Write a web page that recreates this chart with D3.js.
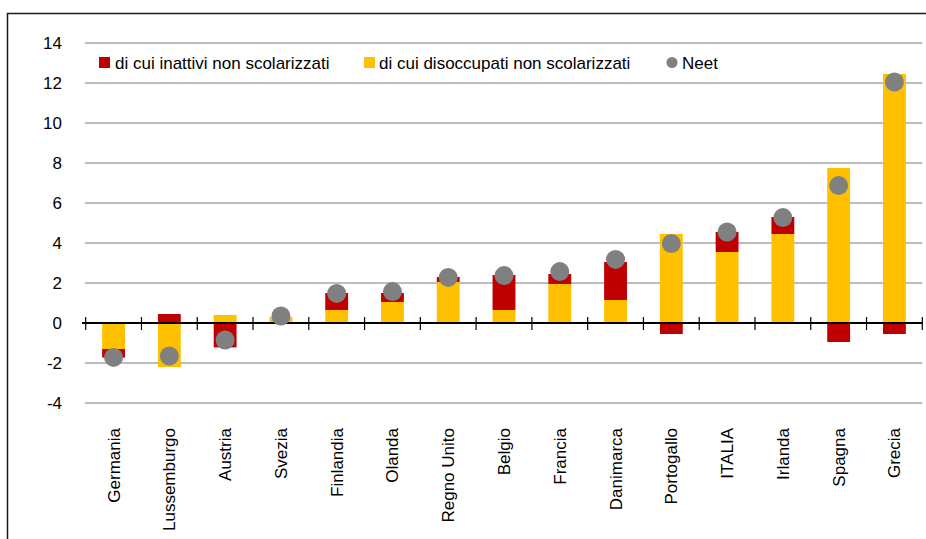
<!DOCTYPE html>
<html>
<head>
<meta charset="utf-8">
<script src="https://cdn.jsdelivr.net/npm/d3@7"></script>
<style>
  html, body { margin: 0; padding: 0; background: #fff; overflow: hidden; }
  svg { display: block; overflow: hidden; font-family: "Liberation Sans", Arial, sans-serif; }
</style>
</head>
<body>
<svg id="chart" width="926" height="539"></svg>
<script>
const categories = ["Germania", "Lussemburgo", "Austria", "Svezia", "Finlandia", "Olanda", "Regno Unito", "Belgio", "Francia", "Danimarca", "Portogallo", "ITALIA", "Irlanda", "Spagna", "Grecia"];
const disoccupati = [-1.3, -2.2, 0.4, 0.3, 0.65, 1.05, 2.05, 0.65, 1.95, 1.15, 4.45, 3.55, 4.45, 7.75, 12.45];
const inattivi = [-0.43, 0.45, -1.22, 0, 0.85, 0.45, 0.25, 1.75, 0.5, 1.9, -0.55, 1.0, 0.85, -0.95, -0.55];
const neet = [-1.72, -1.65, -0.85, 0.35, 1.48, 1.57, 2.28, 2.37, 2.57, 3.18, 3.97, 4.55, 5.27, 6.87, 12.05];
const yTicks = [-4, -2, 0, 2, 4, 6, 8, 10, 12, 14];
const seriesNames = ["di cui inattivi non scolarizzati", "di cui disoccupati non scolarizzati", "Neet"];

const RED = "#C00000", YELLOW = "#FFC000", GREY = "#808080", GRID = "#A6A6A6";

const svg = d3.select("#chart");

svg.append("path").attr("d", "M7.5,539 V13.5 H926")
  .attr("fill", "none").attr("stroke", "#1a1a1a").attr("stroke-width", 1.5);

const x = d3.scaleBand().domain(categories).range([85.7, 922.3]).paddingInner(0.59).paddingOuter(0.295);
const y = d3.scaleLinear().domain([-4, 14]).range([403, 43]);

svg.append("g").selectAll("line").data(yTicks.filter(t => t !== 0)).join("line")
  .attr("x1", 85).attr("x2", 922.3)
  .attr("y1", d => y(d)).attr("y2", d => y(d))
  .attr("stroke", GRID).attr("stroke-width", 1.6);

const yAxis = d3.axisLeft(y).tickValues(yTicks).tickSize(0).tickPadding(0).tickFormat(d => String(d));
const gy = svg.append("g").attr("transform", "translate(62,0)").call(yAxis);
gy.select(".domain").remove();
gy.selectAll("text").attr("font-size", 17).attr("fill", "#000")
  .attr("font-family", "'Liberation Sans', Arial, sans-serif").attr("dy", "0.34em");

const table = categories.map((c, i) => ({ cat: c, dis: disoccupati[i], ina: inattivi[i] }));
const stack = d3.stack().keys(["dis", "ina"]).offset(d3.stackOffsetDiverging);
const stacked = stack(table);
const colors = { dis: YELLOW, ina: RED };

svg.append("g").selectAll("g").data(stacked).join("g")
  .attr("fill", d => colors[d.key])
  .selectAll("rect").data(d => d).join("rect")
  .attr("x", d => x(d.data.cat))
  .attr("width", x.bandwidth())
  .attr("y", d => y(Math.max(d[0], d[1])))
  .attr("height", d => Math.abs(y(d[0]) - y(d[1])));

const step = x.step();
const boundaries = d3.range(categories.length + 1).map(i => 85.7 + i * step);
const ax = svg.append("g");
ax.append("line").attr("x1", 82).attr("x2", 922.3).attr("y1", y(0)).attr("y2", y(0))
  .attr("stroke", "#000").attr("stroke-width", 2.2);
ax.selectAll("line.tk").data(boundaries).join("line").attr("class", "tk")
  .attr("x1", d => d).attr("x2", d => d).attr("y1", y(0) - 6).attr("y2", y(0) + 7)
  .attr("stroke", "#000").attr("stroke-width", 1.2);

svg.append("g").selectAll("circle").data(categories).join("circle")
  .attr("cx", d => x(d) + x.bandwidth() / 2)
  .attr("cy", (d, i) => y(neet[i]))
  .attr("r", 9.5).attr("fill", GREY);

svg.append("g").selectAll("text").data(categories).join("text")
  .attr("transform", d => `translate(${x(d) + x.bandwidth() / 2 + 6},428) rotate(-90)`)
  .attr("text-anchor", "end")
  .attr("font-size", 17).attr("fill", "#000")
  .text(d => d);

const lg = svg.append("g");
lg.append("rect").attr("x", 99).attr("y", 57).attr("width", 11).attr("height", 11).attr("fill", RED);
lg.append("text").attr("x", 115).attr("y", 69).attr("font-size", 17).text(seriesNames[0]);
lg.append("rect").attr("x", 364).attr("y", 57).attr("width", 11).attr("height", 11).attr("fill", YELLOW);
lg.append("text").attr("x", 379).attr("y", 69).attr("font-size", 17).text(seriesNames[1]);
lg.append("circle").attr("cx", 672).attr("cy", 62.5).attr("r", 5.5).attr("fill", GREY);
lg.append("text").attr("x", 682).attr("y", 69).attr("font-size", 17).text(seriesNames[2]);
</script>
</body>
</html>
